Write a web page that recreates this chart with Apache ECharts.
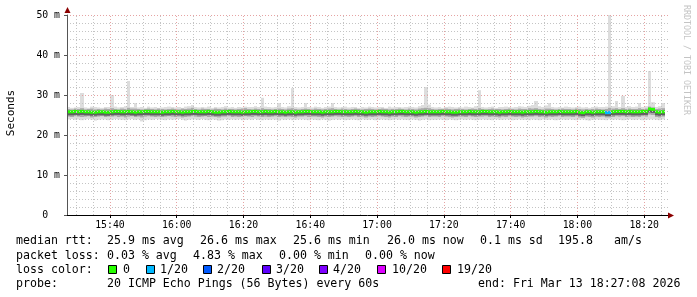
<!DOCTYPE html>
<html><head><meta charset="utf-8">
<script src="https://cdn.jsdelivr.net/npm/echarts@6/dist/echarts.min.js"></script>
<style>html,body{margin:0;padding:0;background:#fff}#c{width:697px;height:297px}</style>
</head><body><div id="c"></div>
<script>
// ---- data ----
const startMinute = 927 + 8/60;              // 15:27:08, 1-minute steps
const endMinute = startMinute + 180;         // 18:27:08
const xTickLabels = ['15:40','16:00','16:20','16:40','17:00','17:20','17:40','18:00','18:20'];
const yTickValues = [0,10,20,30,40,50];
const yTickLabels = ['0','10 m','20 m','30 m','40 m','50 m'];

const medianRtt = [
25.8,25.8,25.9,25.8,25.9,25.8,25.8,25.7,25.7,25.8,
25.8,25.7,25.7,25.8,25.9,25.9,25.8,25.8,25.9,25.8,
25.7,25.8,25.8,25.9,25.9,25.8,25.8,25.8,25.7,25.8,
25.8,25.9,25.8,25.8,25.7,25.8,25.8,25.9,25.9,25.8,
25.8,25.8,25.9,25.8,25.7,25.7,25.8,25.8,25.9,25.8,
25.8,25.8,25.7,25.8,25.8,25.9,25.9,25.8,25.8,25.9,
25.8,25.8,25.9,25.8,25.8,25.7,25.8,25.8,25.7,25.8,
25.8,25.9,25.9,25.8,25.8,25.8,25.7,25.8,25.8,25.8,
25.9,25.9,25.8,25.8,25.8,25.8,25.9,25.8,25.8,25.7,
25.8,25.8,25.8,25.9,25.8,25.8,25.7,25.8,25.8,25.9,
25.9,25.8,25.8,25.8,25.7,25.8,25.8,25.9,25.8,25.8,
25.8,25.8,25.9,25.8,25.8,25.7,25.7,25.8,25.8,25.8,
25.9,25.8,25.8,25.8,25.9,25.9,25.8,25.8,25.8,25.7,
25.8,25.8,25.9,25.8,25.8,25.8,25.7,25.8,25.8,25.8,
25.9,25.8,25.8,25.7,25.8,25.8,25.8,25.9,25.8,25.8,
25.8,25.8,25.9,25.7,25.6,25.8,25.8,25.7,25.8,25.8,
25.8,25.6,25.6,25.8,25.9,25.9,25.9,25.8,25.9,25.8,
25.8,25.8,25.9,25.9,26.5,26.4,25.8,25.7,25.8];

const minRtt = [
23.9,24.0,23.8,23.9,23.7,23.9,24.0,23.8,23.6,23.8,
23.9,23.9,23.7,23.8,24.0,23.9,23.8,23.7,23.9,24.0,
23.8,23.9,23.4,23.7,23.9,23.8,24.0,23.9,23.8,23.7,
23.9,23.8,23.9,24.0,23.8,23.6,23.8,23.9,23.9,23.8,
24.0,23.8,23.7,23.9,23.8,23.6,23.7,23.9,23.8,23.9,
23.8,23.9,23.7,23.8,23.9,23.8,24.0,23.8,23.7,23.9,
23.8,23.9,23.8,23.6,23.9,23.8,23.9,23.7,23.8,23.9,
23.9,23.8,23.7,23.9,23.8,23.7,23.9,23.8,23.6,23.8,
23.9,23.8,23.9,23.7,23.8,23.9,23.8,23.7,23.9,23.8,
23.8,23.9,23.7,23.8,23.9,23.8,23.7,23.8,23.9,23.8,
23.9,23.8,23.7,23.9,23.8,23.6,23.8,23.9,23.7,23.8,
23.8,23.9,23.8,23.7,23.9,23.8,23.7,23.8,23.9,23.8,
23.9,23.8,23.7,23.8,23.9,23.8,23.8,23.7,23.9,23.8,
23.8,23.9,23.8,23.7,23.8,23.9,23.8,23.8,23.7,23.9,
23.8,23.7,23.9,23.8,23.8,23.9,23.7,23.8,23.9,23.8,
23.9,23.8,23.7,23.8,23.9,23.7,23.6,23.8,23.9,23.8,
23.8,23.7,23.9,23.8,23.9,23.8,23.7,23.8,23.9,23.8,
23.8,23.9,23.7,23.8,23.9,23.9,23.8,23.7,23.9];

const lowerBand = [
24.6,24.5,24.7,24.6,24.5,24.6,24.7,24.4,24.5,24.6,
24.7,24.5,24.6,24.6,24.7,24.5,24.6,24.4,24.6,24.7,
24.5,24.6,24.4,24.6,24.7,24.6,24.5,24.6,24.5,24.6,
24.7,24.6,24.5,24.6,24.4,24.5,24.6,24.7,24.6,24.5,
24.6,24.7,24.5,24.6,24.5,24.4,24.6,24.6,24.7,24.5,
24.6,24.5,24.6,24.7,24.6,24.5,24.7,24.6,24.5,24.6,
24.5,24.6,24.7,24.5,24.6,24.5,24.6,24.5,24.4,24.6,
24.6,24.7,24.5,24.6,24.6,24.5,24.4,24.6,24.5,24.6,
24.7,24.6,24.5,24.6,24.5,24.6,24.7,24.5,24.6,24.4,
24.6,24.5,24.6,24.7,24.6,24.5,24.4,24.6,24.5,24.7,
24.6,24.5,24.6,24.6,24.4,24.5,24.6,24.7,24.5,24.6,
24.6,24.5,24.7,24.6,24.5,24.4,24.5,24.6,24.6,24.5,
24.7,24.6,24.5,24.6,24.6,24.7,24.5,24.6,24.5,24.4,
24.6,24.5,24.7,24.6,24.5,24.6,24.4,24.5,24.6,24.6,
24.7,24.5,24.6,24.4,24.6,24.5,24.6,24.7,24.5,24.6,
24.6,24.5,24.7,24.4,24.3,24.6,24.5,24.4,24.6,24.5,
24.6,24.4,24.4,24.5,24.7,24.6,24.7,24.5,24.6,24.5,
24.6,24.5,24.7,24.6,25.1,25.0,24.5,24.4,24.6];

const upperBand = [
26.5,26.4,26.6,26.5,26.7,26.4,26.5,26.6,26.4,26.5,
26.4,26.6,26.5,26.7,26.5,26.4,26.6,26.5,26.8,26.6,
26.6,26.5,26.4,26.5,26.6,26.5,26.4,26.6,26.5,26.4,
26.5,26.6,26.5,26.4,26.6,26.5,26.6,26.8,26.5,26.4,
26.6,26.5,26.5,26.4,26.6,26.5,26.4,26.6,26.5,26.5,
26.4,26.5,26.6,26.7,26.5,26.4,26.6,26.5,26.7,26.5,
26.5,26.4,26.5,26.6,26.5,26.4,26.6,26.7,26.5,26.4,
26.5,26.6,26.5,26.4,26.6,26.5,26.4,26.5,26.6,26.7,
26.5,26.4,26.6,26.5,26.4,26.5,26.6,26.5,26.4,26.5,
26.6,26.5,26.4,26.5,26.6,26.5,26.4,26.5,26.5,26.6,
26.5,26.4,26.6,26.5,26.4,26.6,26.7,26.8,26.7,26.5,
26.4,26.5,26.5,26.6,26.5,26.4,26.5,26.6,26.5,26.4,
26.5,26.6,26.5,26.7,26.5,26.4,26.5,26.6,26.5,26.5,
26.4,26.5,26.6,26.5,26.4,26.6,26.5,26.5,26.7,26.6,
26.7,26.5,26.4,26.6,26.6,26.5,26.4,26.5,26.6,26.5,
26.5,26.4,26.6,26.5,26.4,26.5,26.4,26.5,26.6,26.5,
26.4,26.5,26.8,26.6,26.7,26.5,26.7,26.5,26.6,26.5,
26.5,26.7,26.5,26.6,27.1,26.9,26.5,26.6,26.7];

const maxRtt = [
27.0,26.8,26.9,27.0,30.5,26.9,26.8,27.1,27.0,26.9,
26.8,27.0,27.0,30.0,27.1,26.9,27.0,27.2,33.5,27.0,
28.0,26.9,27.0,26.8,27.1,26.9,27.0,26.8,26.9,27.0,
27.1,27.0,26.9,27.0,26.8,27.1,27.2,27.5,27.0,26.9,
27.0,26.9,27.1,26.8,27.0,26.9,27.0,27.2,26.9,27.0,
26.8,27.0,26.9,27.1,27.0,27.0,27.2,27.0,29.3,27.1,
27.0,26.9,27.0,28.0,27.0,26.9,27.2,31.7,27.0,26.9,
27.0,28.0,27.0,26.9,27.1,27.0,26.8,27.0,27.1,28.0,
27.0,26.9,27.0,27.1,26.9,27.0,27.0,26.8,27.0,26.9,
27.1,27.0,26.9,27.0,27.0,26.8,27.1,26.9,27.0,27.0,
26.9,27.0,27.1,27.0,26.9,27.2,27.5,32.0,27.6,27.0,
26.9,27.0,26.8,27.0,27.1,27.0,26.9,27.0,26.9,27.1,
27.0,26.9,27.2,31.2,27.0,26.9,27.0,27.1,26.8,27.0,
27.0,27.1,27.0,26.9,27.0,27.2,27.1,27.0,27.3,27.5,
28.5,27.2,27.0,27.4,28.0,27.0,26.9,27.0,26.9,27.1,
27.0,26.9,27.0,27.1,26.9,27.0,26.8,27.0,27.1,27.0,
27.0,27.1,50.0,27.2,28.5,27.0,29.8,27.0,27.2,27.0,
27.1,28.0,27.0,27.2,36.0,28.2,27.0,27.2,28.0];

// lost pings (out of 20) per step: [step index, lost]
const lossEvents = [[161,1],[162,1]];

const lossLevels = [0,1,2,3,4,10,19];
const lossLabels = ['0','1/20','2/20','3/20','4/20','10/20','19/20'];
const lossColors = ['#26ff00','#00b8ff','#0059ff','#5e00ff','#7e00ff','#dd00ff','#ff0000'];

// ---- build ----
const lossByStep = {};
lossEvents.forEach(e => { lossByStep[e[0]] = e[1]; });
const smokeData = medianRtt.map((m, i) => [startMinute + i, minRtt[i], lowerBand[i], m, upperBand[i], maxRtt[i], lossByStep[i] || 0]);

function lossColor(n) {
  let c = lossColors[0];
  lossLevels.forEach((lv, k) => { if (n >= lv) c = lossColors[k]; });
  return c;
}
function hm2min(s) { const p = s.split(':'); return (+p[0]) * 60 + (+p[1]); }
function min2hm(v) { const h = Math.floor(v / 60), m = Math.round(v - h * 60); return h + ':' + (m < 10 ? '0' : '') + m; }
const xTickValues = xTickLabels.map(hm2min);

const MONO = '"DejaVu Sans Mono", monospace';
const majorColor = '#e6a3a3';
const minorColor = '#c4c4c4';

const gridMarks = [];
for (let v = Math.ceil(startMinute / 5) * 5; v < endMinute; v += 5) {
  const major = v % 20 === 0;
  gridMarks.push({ xAxis: v, lineStyle: { color: major ? majorColor : minorColor, type: [1, 2], width: 1 } });
}
for (let v = 2; v <= 50; v += 2) {
  const major = v % 10 === 0;
  gridMarks.push({ yAxis: v, lineStyle: { color: major ? majorColor : minorColor, type: [1, 2], width: 1 } });
}

function renderSmoke(params, api) {
  const t = api.value(0);
  const x0 = Math.round(api.coord([t, 0])[0]);
  const x1 = Math.round(api.coord([t + 1, 0])[0]);
  const w = x1 - x0;
  const y = v => api.coord([t, v])[1];
  const yLo = y(api.value(1)), yQ1 = y(api.value(2)), yMed = y(api.value(3)), yQ3 = y(api.value(4)), yHi = y(api.value(5));
  const col = lossColor(api.value(6));
  return { type: 'group', children: [
    { type: 'rect', shape: { x: x0, y: yHi, width: w, height: yLo - yHi }, style: { fill: '#dddddd' } },
    { type: 'rect', shape: { x: x0, y: yQ3, width: w, height: yQ1 - yQ3 }, style: { fill: '#a9a9a9' } },
    { type: 'rect', shape: { x: x0, y: yMed, width: w, height: 3.5 }, style: { fill: '#5f5f5f' } },
    { type: 'rect', shape: { x: x0, y: yMed - 1.5, width: w, height: 3 }, style: { fill: col } }
  ]};
}

const chart = echarts.init(document.getElementById('c'), null, { renderer: 'canvas' });

// legend text graphics
const T = (text, x, y, extra) => Object.assign({ type: 'text', x: x, y: y, z: 100,
  style: { text: text, font: '11.6px ' + MONO, fill: '#000', textAlign: 'left', textVerticalAlign: 'middle', align: 'left', verticalAlign: 'middle' } }, extra || {});
const graphics = [
  T('median rtt:', 16, 241), T('25.9 ms avg', 107, 241), T('26.6 ms max', 200, 241), T('25.6 ms min', 293, 241),
  T('26.0 ms now', 387, 241), T('0.1 ms sd', 480, 241), T('195.8', 558, 241), T('am/s', 614, 241),
  T('packet loss:', 16, 255.5), T('0.03 % avg', 107, 255.5), T('4.83 % max', 193, 255.5), T('0.00 % min', 279, 255.5), T('0.00 % now', 365, 255.5),
  T('loss color:', 16, 269.5),
  T('probe:', 16, 283.5), T('20 ICMP Echo Pings (56 Bytes) every 60s', 107, 283.5), T('end: Fri Mar 13 18:27:08 2026', 478, 283.5)
];
const boxX = [108, 146, 203, 262, 319, 377, 442];
const labX = [123, 160, 217, 276, 333, 392, 457];
lossLabels.forEach((lab, k) => {
  graphics.push({ type: 'rect', z: 100, shape: { x: boxX[k] + 0.5, y: 265.5, width: 8, height: 8 }, style: { fill: lossColors[k], stroke: '#000', lineWidth: 1 } });
  graphics.push(T(lab, labX[k], 269.5));
});
graphics.push({ type: 'text', x: 11, y: 113, rotation: Math.PI / 2, z: 100,
  style: { text: 'Seconds', font: '11px ' + MONO, fill: '#000', textAlign: 'center', textVerticalAlign: 'middle', align: 'center', verticalAlign: 'middle' } });
graphics.push({ type: 'text', x: 686, y: 60, rotation: -Math.PI / 2, z: 100,
  style: { text: 'RRDTOOL / TOBI OETIKER', font: '8.3px ' + MONO, fill: '#c4c4c4', textAlign: 'center', textVerticalAlign: 'middle', align: 'center', verticalAlign: 'middle' } });
// axis arrow heads
graphics.push({ type: 'polygon', z: 100, shape: { points: [[67.5, 7], [64.5, 13], [70.5, 13]] }, style: { fill: '#8b0000' } });
graphics.push({ type: 'polygon', z: 100, shape: { points: [[674, 215.5], [668, 212.5], [668, 218.5]] }, style: { fill: '#8b0000' } });

chart.setOption({
  animation: false,
  backgroundColor: '#fff',
  grid: { left: 67, right: 29, top: 15, bottom: 82, containLabel: false, outerBoundsMode: 'none' },
  xAxis: {
    type: 'value', min: startMinute, max: endMinute, z: 5,
    axisLine: { show: true, lineStyle: { color: '#000', width: 1 } },
    axisTick: { show: true, customValues: xTickValues, length: 3, inside: false, lineStyle: { color: '#000' } },
    axisLabel: { customValues: xTickValues, formatter: v => min2hm(v), margin: 5, fontFamily: MONO, fontSize: 9.8, color: '#000' },
    splitLine: { show: false }
  },
  yAxis: {
    type: 'value', min: 0, max: 50, interval: 10, z: 5,
    axisLine: { show: true, lineStyle: { color: '#555', width: 1 } },
    axisTick: { show: true, length: 3, lineStyle: { color: '#555' } },
    axisLabel: { margin: 7, fontFamily: MONO, fontSize: 9.8, color: '#000',
      formatter: v => { const k = yTickValues.indexOf(v); const s = k >= 0 ? yTickLabels[k] : ''; return v === 0 ? s + '\u00a0\u00a0' : s; } },
    splitLine: { show: false }
  },
  graphic: graphics,
  series: [
    { type: 'line', data: [], z: 1, silent: true,
      markLine: { silent: true, symbol: ['none', 'none'], label: { show: false }, animation: false, data: gridMarks } },
    { type: 'custom', z: 3, renderItem: renderSmoke, data: smokeData, encode: { x: 0, y: [1, 5] }, clip: true, silent: true }
  ]
});
</script></body></html>
